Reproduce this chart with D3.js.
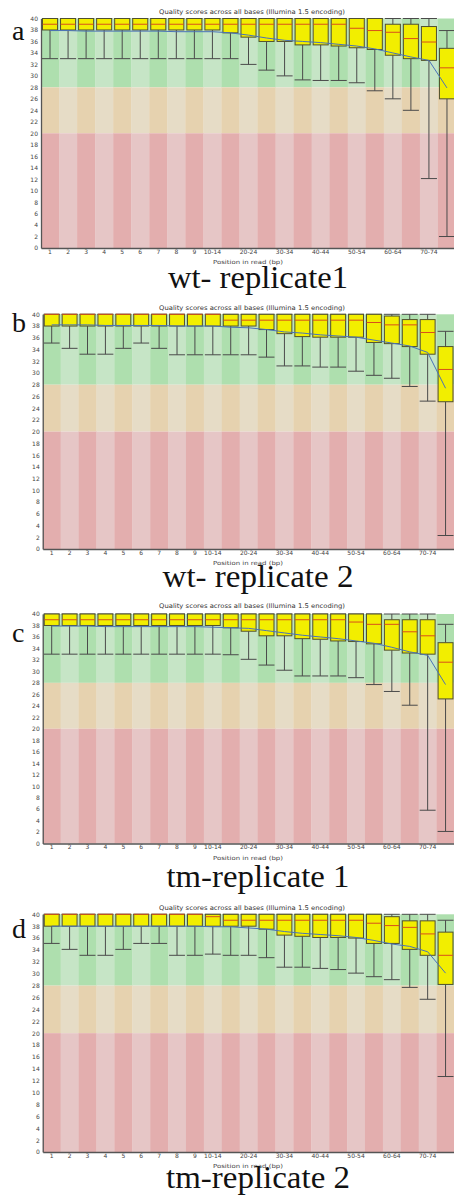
<!DOCTYPE html>
<html>
<head>
<meta charset="utf-8">
<script src="https://cdn.jsdelivr.net/npm/d3@7"></script>
<style>
  body { margin: 0; background: #fff; }
  svg { display: block; }
</style>
</head>
<body>
<div class="chart"></div>
<script>
const categories = ["1", "2", "3", "4", "5", "6", "7", "8", "9", "10-14", "15-19", "20-24", "25-29",
  "30-34", "35-39", "40-44", "45-49", "50-54", "55-59", "60-64", "65-69", "70-74", "75-76"];
const shownTicks = ["1", "2", "3", "4", "5", "6", "7", "8", "9", "10-14", "20-24", "30-34",
  "40-44", "50-54", "60-64", "70-74"];
const yTicks = d3.range(0, 41, 2);

// wt- replicate1
const wt1Low = [33, 33, 33, 33, 33, 33, 33, 33, 33, 33, 33, 32, 31, 30, 29.3, 29.2, 29.2, 28.8, 27.4, 26, 24, 12.1, 2];
const wt1Q1 = [38, 38, 38, 38, 38, 38, 38, 38, 38, 38, 37.5, 36.75, 36, 36, 35.4, 35.4, 35.2, 34.9, 34.6, 33.6, 33, 32.7, 26];
const wt1Median = [39, 39, 39, 39, 39, 39, 39, 39, 39, 39, 39, 39, 39, 39, 39, 39, 39, 38.3, 37.9, 37.6, 36.5, 35.9, 31.4];
const wt1Q3 = [40, 40, 40, 40, 40, 40, 40, 40, 40, 40, 40, 40, 40, 40, 40, 40, 40, 40, 40, 39, 39, 38.6, 34.8];
const wt1High = [40, 40, 40, 40, 40, 40, 40, 40, 40, 40, 40, 40, 40, 40, 40, 40, 40, 40, 40, 40, 40, 40, 37.9];
const wt1Mean = [37.9, 37.9, 37.8, 37.8, 37.8, 37.8, 37.8, 37.7, 37.7, 37.7, 37.5, 37.1, 36.6, 36.2, 36.0, 35.8, 35.5, 35.2, 34.7, 34.0, 33.3, 32.7, 27.9];

// wt- replicate 2
const wt2Low = [35.1, 34.2, 33.2, 33.2, 34.2, 35.1, 34.2, 33.1, 33.1, 33.1, 33.1, 33.1, 32.7, 31.2, 31.2, 31.0, 31.0, 30.3, 29.6, 29.1, 27.7, 25.2, 2.3];
const wt2Q1 = [38, 38, 38, 38, 38, 38, 38, 38, 38, 38, 38, 38, 37.4, 36.7, 36.2, 36.1, 36.1, 36.1, 35.2, 35.0, 34.5, 33.2, 25.1];
const wt2Median = [40, 40, 40, 40, 40, 40, 40, 40, 40, 40, 39, 39, 39, 39, 39, 39, 39, 39, 38.6, 38.2, 38.2, 36.9, 30.6];
const wt2Q3 = [40, 40, 40, 40, 40, 40, 40, 40, 40, 40, 40, 40, 40, 40, 40, 40, 40, 40, 40, 39.7, 39.1, 39.1, 34.5];
const wt2High = [40, 40, 40, 40, 40, 40, 40, 40, 40, 40, 40, 40, 40, 40, 40, 40, 40, 40, 40, 40, 40, 40, 37.1];
const wt2Mean = [38.2, 38.2, 38.2, 38.1, 38.1, 38.1, 38.1, 38.0, 38.0, 38.0, 37.8, 37.7, 37.4, 37.0, 36.8, 36.5, 36.3, 36.1, 35.6, 35.1, 34.6, 33.5, 27.4];

// tm-replicate 1
const tm1Low = [33, 33, 33, 33, 33, 33, 33, 33, 33, 33, 32.9, 32.1, 31.1, 30.2, 29.2, 29.2, 29.2, 28.9, 27.7, 26.5, 24.1, 5.8, 2.1];
const tm1Q1 = [38, 38, 38, 38, 38, 38, 38, 38, 38, 38, 37.6, 37.0, 36.2, 36.2, 35.7, 35.6, 35.3, 35.2, 34.8, 33.7, 33.2, 33.0, 25.2];
const tm1Median = [39, 39, 39, 39, 39, 39, 39, 39, 39, 39, 39, 39, 39, 39, 39, 39, 39, 38.6, 38.2, 38.2, 36.9, 36.2, 31.6];
const tm1Q3 = [40, 40, 40, 40, 40, 40, 40, 40, 40, 40, 40, 40, 40, 40, 40, 40, 40, 40, 40, 39, 39, 39, 35.0];
const tm1High = [40, 40, 40, 40, 40, 40, 40, 40, 40, 40, 40, 40, 40, 40, 40, 40, 40, 40, 40, 40, 40, 40, 38.2];
const tm1Mean = [37.9, 37.9, 37.9, 37.8, 37.8, 37.8, 37.8, 37.8, 37.8, 37.7, 37.6, 37.5, 37.1, 36.7, 36.3, 36.0, 35.7, 35.3, 34.9, 34.2, 33.4, 32.8, 27.7];

// tm-replicate 2
const tm2Low = [35.1, 34.1, 33.1, 33.1, 34.1, 35.1, 35.1, 33.1, 33.1, 33.3, 33.1, 33.1, 32.7, 31.1, 31.1, 30.9, 30.7, 30.1, 29.5, 29.0, 27.7, 25.7, 12.7];
const tm2Q1 = [38, 38, 38, 38, 38, 38, 38, 38, 38, 38, 38, 38, 37.5, 36.5, 36.3, 36.1, 36.1, 36.0, 35.1, 35.1, 34.1, 33.1, 28.2];
const tm2Median = [40, 40, 40, 40, 40, 40, 40, 40, 40, 39.6, 39, 39, 39, 39, 39, 39, 39, 39, 38.5, 38.1, 37.8, 36.7, 33.1];
const tm2Q3 = [40, 40, 40, 40, 40, 40, 40, 40, 40, 40, 40, 40, 40, 40, 40, 40, 40, 40, 40, 39.6, 38.9, 38.9, 37.0];
const tm2High = [40, 40, 40, 40, 40, 40, 40, 40, 40, 40, 40, 40, 40, 40, 40, 40, 40, 40, 40, 40, 40, 40, 39];
const tm2Mean = [38.0, 38.0, 38.0, 38.0, 38.0, 38.0, 38.0, 38.0, 38.0, 37.9, 37.9, 37.7, 37.5, 37.1, 36.8, 36.6, 36.4, 36.1, 35.6, 35.0, 34.6, 33.7, 30.1];

const chartTitle = "Quality scores across all bases (Illumina 1.5 encoding)";
const xLabel = "Position in read (bp)";

// quality bands (FastQC style): [from, to, light, dark]
const bands = [
  [28, 40, "#c6e5c6", "#aedfae"],
  [20, 28, "#e6dcc6", "#e6d2af"],
  [0, 20, "#e6c6c6", "#e3aeae"]
];

const serif = "'Liberation Serif', 'Times New Roman', Times, 'DejaVu Serif', serif";
const sans = "'DejaVu Sans', Verdana, sans-serif";

const panels = [
  { letter: "a", caption: "wt- replicate1", capLen: 180, top: 18.5, bottom: 248, x0: 41, x1: 456,
    titleY: 14.3, capY: 288, letterY: 40,
    low: wt1Low, q1: wt1Q1, median: wt1Median, q3: wt1Q3, high: wt1High, mean: wt1Mean },
  { letter: "b", caption: "wt- replicate 2", capLen: 191, top: 314.3, bottom: 549, x0: 42.75, x1: 454.5,
    titleY: 309.5, capY: 586.7, letterY: 332,
    low: wt2Low, q1: wt2Q1, median: wt2Median, q3: wt2Q3, high: wt2High, mean: wt2Mean },
  { letter: "c", caption: "tm-replicate 1", capLen: 183, top: 614, bottom: 843.5, x0: 42.75, x1: 454.5,
    titleY: 608, capY: 887.3, letterY: 642,
    low: tm1Low, q1: tm1Q1, median: tm1Median, q3: tm1Q3, high: tm1High, mean: tm1Mean },
  { letter: "d", caption: "tm-replicate 2", capLen: 184, top: 914.3, bottom: 1152, x0: 42.75, x1: 454.5,
    titleY: 909.5, capY: 1188.3, letterY: 938,
    low: tm2Low, q1: tm2Q1, median: tm2Median, q3: tm2Q3, high: tm2High, mean: tm2Mean }
];

const svg = d3.select(".chart")
  .append("svg")
  .attr("width", 454)
  .attr("height", 1197);

panels.forEach(p => {
  const g = svg.append("g");

  const xScale = d3.scaleBand().domain(categories).range([p.x0, p.x1]);
  const yScale = d3.scaleLinear().domain([0, 40]).range([p.bottom, p.top]);
  const bw = xScale.bandwidth();

  // striped background
  bands.forEach(b => {
    g.selectAll(null)
      .data(categories)
      .enter()
      .append("rect")
      .attr("x", d => xScale(d))
      .attr("width", bw + 0.3)
      .attr("y", yScale(b[1]))
      .attr("height", yScale(b[0]) - yScale(b[1]))
      .attr("fill", (d, i) => (i % 2 === 0 ? b[3] : b[2]));
  });

  const rows = categories.map((c, i) => ({
    c: c, low: p.low[i], q1: p.q1[i], median: p.median[i], q3: p.q3[i], high: p.high[i], mean: p.mean[i]
  }));
  const cx = d => xScale(d.c) + bw / 2;

  // whiskers
  g.selectAll(null).data(rows).enter().append("line")
    .attr("x1", cx).attr("x2", cx)
    .attr("y1", d => yScale(d.q1)).attr("y2", d => yScale(d.low))
    .attr("stroke", "#4a4a4a").attr("stroke-width", 1);
  g.selectAll(null).data(rows).enter().append("line")
    .attr("x1", cx).attr("x2", cx)
    .attr("y1", d => yScale(d.high)).attr("y2", d => yScale(d.q3))
    .attr("stroke", "#4a4a4a").attr("stroke-width", 1);
  ["low", "high"].forEach(k => {
    g.selectAll(null).data(rows).enter().append("line")
      .attr("x1", d => xScale(d.c) + 1).attr("x2", d => xScale(d.c) + bw - 1)
      .attr("y1", d => yScale(d[k])).attr("y2", d => yScale(d[k]))
      .attr("stroke", "#4a4a4a").attr("stroke-width", 1);
  });

  // boxes
  g.selectAll(null).data(rows).enter().append("rect")
    .attr("x", d => xScale(d.c) + 1.5)
    .attr("width", bw - 3)
    .attr("y", d => yScale(d.q3))
    .attr("height", d => yScale(d.q1) - yScale(d.q3))
    .attr("fill", "#f2ee00")
    .attr("stroke", "#505030")
    .attr("stroke-width", 1);

  // medians
  g.selectAll(null).data(rows).enter().append("line")
    .attr("x1", d => xScale(d.c) + 1.5).attr("x2", d => xScale(d.c) + bw - 1.5)
    .attr("y1", d => yScale(d.median)).attr("y2", d => yScale(d.median))
    .attr("stroke", "#d8501a").attr("stroke-width", 1);

  // mean line
  const line = d3.line().x(cx).y(d => yScale(d.mean));
  g.append("path")
    .datum(rows)
    .attr("d", line)
    .attr("fill", "none")
    .attr("stroke", "#4a72b8")
    .attr("stroke-width", 1);

  // axes
  const yAxis = g.append("g")
    .attr("transform", "translate(" + p.x0 + ",0)")
    .call(d3.axisLeft(yScale).tickValues(yTicks).tickSize(0).tickSizeOuter(0).tickPadding(3));
  const xAxis = g.append("g")
    .attr("transform", "translate(0," + p.bottom + ")")
    .call(d3.axisBottom(xScale).tickValues(shownTicks).tickSize(0).tickSizeOuter(0).tickPadding(1.5));
  [yAxis, xAxis].forEach(ax => {
    ax.select(".domain").attr("stroke", "#555").attr("stroke-width", 1.3);
    ax.selectAll("text")
      .attr("fill", "#444")
      .style("font-family", sans)
      .style("font-size", "6px");
  });

  g.append("text")
    .attr("x", 252).attr("y", p.titleY)
    .attr("text-anchor", "middle")
    .attr("textLength", 186).attr("lengthAdjust", "spacingAndGlyphs")
    .style("font-family", sans)
    .style("font-size", "6.4px")
    .attr("fill", "#333")
    .text(chartTitle);

  g.append("text")
    .attr("x", 248).attr("y", p.bottom + 16.3)
    .attr("text-anchor", "middle")
    .attr("textLength", 70).attr("lengthAdjust", "spacingAndGlyphs")
    .style("font-family", sans)
    .style("font-size", "5.6px")
    .attr("fill", "#444")
    .text(xLabel);

  g.append("text")
    .attr("x", 12).attr("y", p.letterY)
    .style("font-family", serif)
    .style("font-size", "28px")
    .attr("fill", "#111")
    .text(p.letter);

  g.append("text")
    .attr("x", 258).attr("y", p.capY)
    .attr("text-anchor", "middle")
    .attr("textLength", p.capLen).attr("lengthAdjust", "spacingAndGlyphs")
    .style("font-family", serif)
    .style("font-size", "31px")
    .attr("fill", "#111")
    .text(p.caption);
});
</script>
</body>
</html>
